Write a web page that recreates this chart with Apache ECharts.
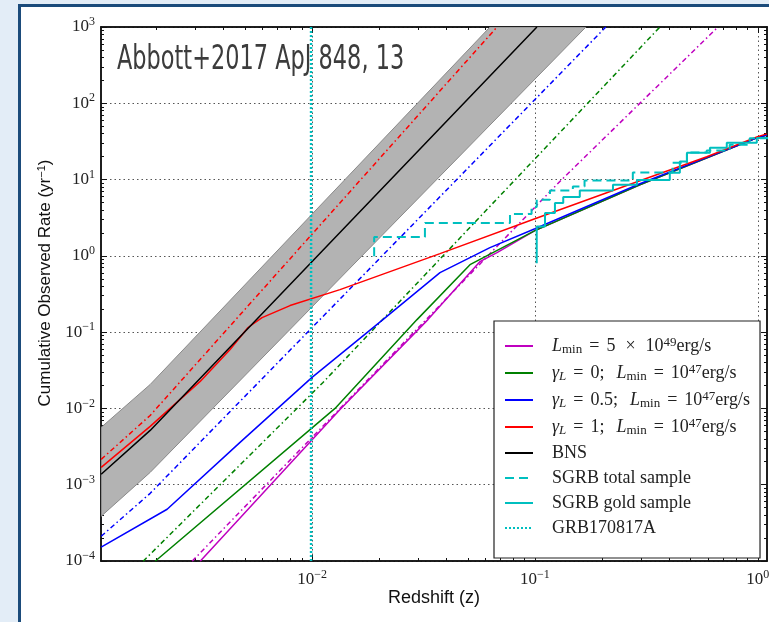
<!DOCTYPE html>
<html><head><meta charset="utf-8">
<script src="https://cdn.jsdelivr.net/npm/echarts@6/dist/echarts.min.js"></script>
<style>
html,body{margin:0;padding:0;width:769px;height:622px;overflow:hidden;background:#e3edf7;}
#frame{position:absolute;left:18px;top:4px;width:800px;height:700px;background:#fff;border-left:3px solid #1b4b7b;border-top:3px solid #1b4b7b;}
#chart{position:absolute;left:0;top:0;width:769px;height:622px;}
</style></head><body><div id="frame"></div><div id="chart"></div>
<script>
// ---- axis ranges / ticks ----
const xRange = [0.00113, 1.1];
const yRange = [1e-4, 1e3];
const xMajor = [0.01, 0.1, 1];
const yMajor = [1e-4, 1e-3, 1e-2, 1e-1, 1, 10, 100, 1000];
const minorMult = [2, 3, 4, 5, 6, 7, 8, 9];

// ---- BNS (black) and its uncertainty band (outline: upper edge then lower edge back) ----
const bnsZ = [0.001132, 0.001878, 0.1021];
const bnsR = [0.00137, 0.00515, 1000];
const bandZ = [0.001132, 0.001878, 0.06285, 0.1694, 0.001878, 0.001132];
const bandR = [0.00564, 0.0206, 1000, 1000, 0.00145, 3.86e-4];

// ---- model curves (solid) ----
const redZ = [0.001132, 0.001878, 0.003148, 0.004288, 0.005164, 0.005966, 0.007966, 0.01335, 0.03751, 0.1, 0.2958, 0.5906, 0.9907, 1.097];
const redR = [0.00169, 0.00581, 0.0226, 0.0592, 0.115, 0.155, 0.223, 0.361, 1.07, 3.07, 9.64, 19.9, 36.3, 39.7];
const blueZ = [0.001132, 0.002238, 0.004753, 0.01, 0.0208, 0.03751, 0.06285, 0.1, 0.2958, 0.9907, 1.097];
const blueR = [1.52e-4, 4.77e-4, 0.00359, 0.0255, 0.146, 0.603, 1.28, 2.27, 8.81, 35.2, 38.5];
const greenZ = [0.001977, 0.01268, 0.02958, 0.05114, 0.1, 0.2958, 0.9907, 1.097];
const greenR = [9.93e-5, 0.01, 0.146, 0.767, 2.14, 8.55, 35.2, 38.5];
const magZ = [0.003148, 0.01335, 0.03311, 0.0566, 0.06761, 0.1, 0.2958, 0.9907, 1.097];
const magR = [9.93e-5, 0.0097, 0.146, 0.839, 1.10, 2.14, 8.55, 35.2, 38.5];

// ---- dash-dot curves ----
const redDDZ = [0.001132, 0.001878, 0.06761];
const redDDR = [0.002148, 0.00809, 1000];
const blueDDZ = [0.001132, 0.001878, 0.2080];
const blueDDR = [2.11e-4, 7.71e-4, 1000];
const greenDDZ = [0.001746, 0.0112, 0.3639];
const greenDDR = [9.93e-5, 0.0219, 1000];
const magDDZ = [0.002897, 0.1294, 0.6627];
const magDDR = [9.93e-5, 9.44, 1000];

// ---- SGRB samples (cumulative steps) ----
const totZ = [0.019, 0.019, 0.0321, 0.0773, 0.0966, 0.1019, 0.1168, 0.148, 0.167, 0.275, 0.415, 0.481, 0.590, 0.748, 0.920, 1.12];
const totR = [0.987, 1.77, 2.70, 3.53, 4.36, 5.44, 7.2, 8.1, 9.7, 12.4, 16.6, 22.6, 24.1, 28.6, 34.9, 34.9];
const goldZ = [0.1019, 0.1019, 0.111, 0.123, 0.134, 0.159, 0.224, 0.287, 0.403, 0.447, 0.481, 0.610, 0.726, 0.99, 1.12];
const goldR = [0.8, 2.43, 3.65, 4.92, 5.9, 7.2, 8.55, 9.9, 12.3, 17.3, 22.4, 26.1, 30.3, 35.2, 35.2];
const grbZ = [0.0099, 0.0099];
const grbR = [1e-4, 1e3];

// ---- legend labels ----
const legendNames = ['Lmin', 'g0', 'g05', 'g1', 'BNS', 'SGRB total sample', 'SGRB gold sample', 'GRB170817A'];
const legendText = {
  'Lmin': '{sp| }{it|L}{sub|min}{eq|=}{n|5}{op|×}{n|10}{sup|49}{n|erg/s}',
  'g0': '{sp| }{it|γ}{subi|L}{eq|=}{n|0;}{sc| }{it|L}{sub|min}{eq|=}{n|10}{sup|47}{n|erg/s}',
  'g05': '{sp| }{it|γ}{subi|L}{eq|=}{n|0.5;}{sc| }{it|L}{sub|min}{eq|=}{n|10}{sup|47}{n|erg/s}',
  'g1': '{sp| }{it|γ}{subi|L}{eq|=}{n|1;}{sc| }{it|L}{sub|min}{eq|=}{n|10}{sup|47}{n|erg/s}',
  'BNS': '{sp| }{n|BNS}',
  'SGRB total sample': '{sp| }{n|SGRB total sample}',
  'SGRB gold sample': '{sp| }{n|SGRB gold sample}',
  'GRB170817A': '{sp| }{n|GRB170817A}'
};

const lg = Math.log10;
const P = (zs, rs) => zs.map((z, i) => [lg(z), lg(rs[i])]);
const minorOf = (lo, hi) => {
  const out = [];
  for (let d = Math.floor(lg(lo)); d <= Math.ceil(lg(hi)); d++) {
    minorMult.forEach(k => { const v = lg(k) + d; if (v >= lg(lo) && v <= lg(hi)) out.push(v); });
  }
  return out;
};
const xMin = lg(xRange[0]), xMax = lg(xRange[1]);
const yMin = lg(yRange[0]), yMax = lg(yRange[1]);
const xMajL = xMajor.map(lg), yMajL = yMajor.map(lg);
const xMinorL = minorOf(xRange[0], xRange[1]), yMinorL = minorOf(yRange[0], yRange[1]);

const SERIF = '"Liberation Serif", "DejaVu Serif", serif';
const SANS = '"Liberation Sans", Arial, sans-serif';
const expFmt = v => '{b|10}{e|' + String(Math.round(v)).replace('-', '−') + '}';
const tickRich = {
  b: {fontFamily: SERIF, fontSize: 17, lineHeight: 22, color: '#222'},
  e: {fontFamily: SERIF, fontSize: 12, lineHeight: 12, verticalAlign: 'top', color: '#222'}
};

function axis(kind, pos, ticks, labels, len, grid) {
  const isX = kind === 'x';
  return {
    type: 'value', position: pos,
    min: isX ? xMin : yMin, max: isX ? xMax : yMax,
    axisLine: {show: true, onZero: false, lineStyle: {color: '#111', width: 1.5}},
    axisTick: {show: true, inside: true, length: len, customValues: ticks, lineStyle: {color: '#111', width: 1}},
    axisLabel: labels ? {show: true, customValues: labels, formatter: expFmt, rich: tickRich, margin: isX ? 8 : 6} : {show: false},
    splitLine: grid ? {show: true, lineStyle: {color: '#555', type: [1.5, 3], width: 1}} : {show: false}
  };
}

const DD = [5, 3, 1.5, 3];
const C = {m: '#bf00bf', g: '#008000', b: '#0000ff', r: '#ff0000', k: '#000000', c: '#00bfbf'};
function line(name, data, color, type, width, extra) {
  return Object.assign({
    type: 'line', name, data, symbol: 'none', showSymbol: false,
    lineStyle: {color, type, width}, itemStyle: {color},
    emphasis: {disabled: true}, silent: true, clip: true, z: 3
  }, extra || {});
}

const bandPts = P(bandZ, bandR);
const series = [
  {type: 'custom', name: 'band', silent: true, z: 1, clip: true, data: [[bandPts[0][0], bandPts[0][1]]],
   renderItem: (params, api) => ({
     type: 'polygon',
     shape: {points: bandPts.map(p => api.coord(p))},
     style: {fill: '#b3b3b3', stroke: '#8a8a8a', lineWidth: 1}
   })},
  line('ddRed', P(redDDZ, redDDR), C.r, DD, 1.5),
  line('ddBlue', P(blueDDZ, blueDDR), C.b, DD, 1.5),
  line('ddGreen', P(greenDDZ, greenDDR), C.g, DD, 1.5),
  line('ddMag', P(magDDZ, magDDR), C.m, DD, 1.5),
  line('Lmin', P(magZ, magR), C.m, 'solid', 1.5),
  line('g0', P(greenZ, greenR), C.g, 'solid', 1.5),
  line('g05', P(blueZ, blueR), C.b, 'solid', 1.5),
  line('g1', P(redZ, redR), C.r, 'solid', 1.5),
  line('BNS', P(bnsZ, bnsR), C.k, 'solid', 1.5),
  line('SGRB total sample', P(totZ, totR), C.c, [9, 5], 2, {step: 'end'}),
  line('SGRB gold sample', P(goldZ, goldR), C.c, 'solid', 2, {step: 'end'}),
  line('GRB170817A', P(grbZ, grbR), C.c, [2, 2], 2.5)
];

const RS = {fontFamily: SERIF, color: '#222'};
const chart = echarts.init(document.getElementById('chart'), null, {renderer: 'canvas'});
chart.setOption({
  animation: false,
  backgroundColor: 'transparent',
  grid: {left: 101, top: 27, right: 2, bottom: 61, outerBoundsMode: 'none', containLabel: false},
  xAxis: [
    axis('x', 'bottom', xMajL, xMajL, 6, true),
    axis('x', 'bottom', xMinorL, null, 3, false),
    axis('x', 'top', xMajL, null, 6, false),
    axis('x', 'top', xMinorL, null, 3, false)
  ],
  yAxis: [
    axis('y', 'left', yMajL, yMajL, 6, true),
    axis('y', 'left', yMinorL, null, 3, false),
    axis('y', 'right', yMajL, null, 6, false),
    axis('y', 'right', yMinorL, null, 3, false)
  ],
  legend: {
    data: legendNames, orient: 'vertical', left: 494, top: 321,
    itemWidth: 28, itemHeight: 14, itemGap: 7,
    padding: [15, 10, 21, 10],
    backgroundColor: '#fff', borderColor: '#222', borderWidth: 1.2, borderRadius: 0,
    selectedMode: false,
    itemStyle: {opacity: 0, borderWidth: 0},
    formatter: n => legendText[n],
    textStyle: {
      fontFamily: SERIF, fontSize: 18, color: '#222',
      rich: {
        sp: Object.assign({width: 14, fontSize: 18, lineHeight: 20}, RS),
        n: Object.assign({fontSize: 18, lineHeight: 20}, RS),
        eq: Object.assign({fontSize: 18, lineHeight: 20, padding: [0, 7, 0, 7]}, RS),
        op: Object.assign({fontSize: 18, lineHeight: 20, padding: [0, 10, 0, 10]}, RS),
        sc: Object.assign({fontSize: 18, lineHeight: 20, width: 12}, RS),
        it: Object.assign({fontSize: 18, fontStyle: 'italic', lineHeight: 20}, RS),
        sub: Object.assign({fontSize: 13, lineHeight: 11, verticalAlign: 'bottom'}, RS),
        subi: Object.assign({fontSize: 13, fontStyle: 'italic', lineHeight: 11, verticalAlign: 'bottom'}, RS),
        sup: Object.assign({fontSize: 13, lineHeight: 11, verticalAlign: 'top'}, RS)
      }
    }
  },
  graphic: [
    {type: 'text', left: 117, top: 44, scaleX: 0.68, z: 10,
     style: {text: 'Abbott+2017 ApJ 848, 13', font: 'normal 33px "DejaVu Sans", sans-serif', fill: '#3c3c3c'}},
    {type: 'text', x: 434, y: 598, z: 10,
     style: {text: 'Redshift (z)', font: '18px ' + SANS, fill: '#111', align: 'center', verticalAlign: 'middle'}},
    {type: 'text', x: 45, y: 283, rotation: Math.PI / 2, z: 10,
     style: {text: 'Cumulative Observed Rate (yr{s|−1})', font: '17px ' + SANS, fill: '#111', align: 'center', verticalAlign: 'middle',
             rich: {s: {fontFamily: SANS, fontSize: 11, lineHeight: 11, verticalAlign: 'top', fill: '#111'}}}}
  ],
  series
});
</script></body></html>
